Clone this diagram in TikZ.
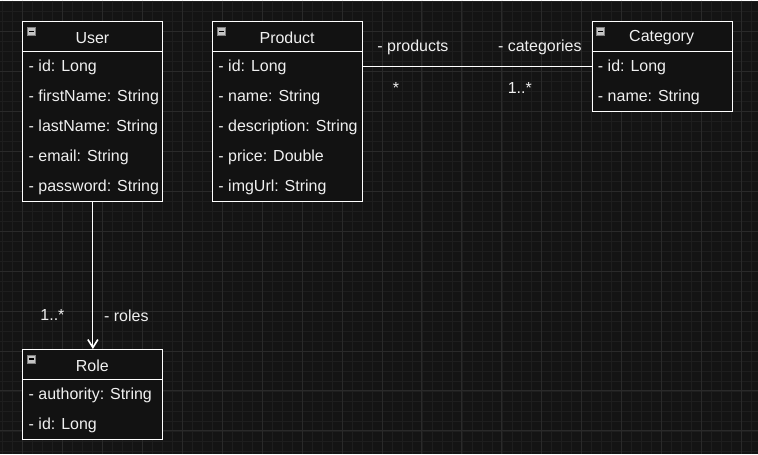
\documentclass[tikz,border=0pt]{standalone}
\usepackage{fontspec}
\setmainfont{Liberation Sans}
\usetikzlibrary{arrows.meta}
\definecolor{canvasbg}{HTML}{141414}
\definecolor{boxbg}{HTML}{121212}
\definecolor{minorline}{HTML}{1E1E1E}
\definecolor{majorline}{HTML}{2A2A2A}
\definecolor{labeltext}{HTML}{F0F0F0}
\definecolor{iconfill}{HTML}{C4C4C4}
\begin{document}
\begin{tikzpicture}[x=0.75pt, y=-0.75pt]
    % Define styles
    \tikzset{
        classbox/.style={draw=white, line width=0.75pt, fill=boxbg, anchor=north west, inner sep=0pt},
        classname/.style={text=labeltext, font=\fontsize{12}{14}\selectfont, inner sep=0pt, yshift=-1pt},
        attribute/.style={anchor=west, text=labeltext, font=\fontsize{12}{14}\selectfont, inner sep=0pt, yshift=-1pt},
        edgelabel/.style={text=labeltext, font=\fontsize{12}{14}\selectfont, inner sep=0pt, yshift=-1pt},
        headerline/.style={draw=white, line width=0.75pt},
        collapseicon/.style={draw=gray, fill=iconfill, minimum size=6pt, inner sep=0pt,
            path picture={\draw[black, line width=0.9pt] ([xshift=1.2pt]path picture bounding box.west) -- ([xshift=-1.2pt]path picture bounding box.east);}},
        assocline/.style={draw=white, line width=0.6pt},
        navarrow/.style={draw=white, line width=0.75pt, -{Straight Barb[length=6pt, width=7.5pt, line width=1.2pt]}}
    }

    % Canvas and grid
    \fill[canvasbg] (0,0) rectangle (758,454);
    \foreach \gx in {2,12,...,752} \draw[minorline, line width=0.5pt] (\gx,0) -- (\gx,454);
    \foreach \gy in {1,11,...,451} \draw[minorline, line width=0.5pt] (0,\gy) -- (758,\gy);
    \foreach \gx in {22,62,...,742} \draw[majorline, line width=0.75pt] (\gx,0) -- (\gx,454);
    \foreach \gy in {31,71,...,431} \draw[majorline, line width=0.75pt] (0,\gy) -- (758,\gy);
    \useasboundingbox (0,0) rectangle (758,454);

    % Class boxes
    \node[classbox, minimum width=105pt, minimum height=135pt] (user) at (22,21) {};
    \node[classbox, minimum width=112.5pt, minimum height=135pt] (product) at (212,21) {};
    \node[classbox, minimum width=105pt, minimum height=67.5pt] (category) at (592,21) {};
    \node[classbox, minimum width=105pt, minimum height=67.5pt] (role) at (22,349) {};

    % Header separators
    \draw[headerline] (22,51) -- (162,51);
    \draw[headerline] (212,51) -- (362,51);
    \draw[headerline] (592,51) -- (732,51);
    \draw[headerline] (22,379) -- (162,379);

    % Collapse icons
    \node[collapseicon] (usericon) at (31,31) {};
    \node[collapseicon] (producticon) at (221,31) {};
    \node[collapseicon] (categoryicon) at (601,31) {};
    \node[collapseicon] (roleicon) at (31,359) {};

    % Class names
    \node[classname] (usertitle) at (92,36) {User};
    \node[classname] (producttitle) at (287,36) {Product};
    \node[classname] (categorytitle) at (662,36) {Category};
    \node[classname] (roletitle) at (92,364) {Role};

    % User attributes
    \node[attribute] (uid) at (28,66) {- id: Long};
    \node[attribute] (ufirst) at (28,96) {- firstName: String};
    \node[attribute] (ulast) at (28,126) {- lastName: String};
    \node[attribute] (umail) at (28,156) {- email: String};
    \node[attribute] (upass) at (28,186) {- password: String};

    % Product attributes
    \node[attribute] (pid) at (218,66) {- id: Long};
    \node[attribute] (pname) at (218,96) {- name: String};
    \node[attribute] (pdesc) at (218,126) {- description: String};
    \node[attribute] (pprice) at (218,156) {- price: Double};
    \node[attribute] (pimg) at (218,186) {- imgUrl: String};

    % Category attributes
    \node[attribute] (cid) at (598,66) {- id: Long};
    \node[attribute] (cname) at (598,96) {- name: String};

    % Role attributes
    \node[attribute] (rauth) at (28,394) {- authority: String};
    \node[attribute] (rid) at (28,424) {- id: Long};

    % Associations
    \draw[assocline] (product.east |- 0,66) -- (category.west |- 0,66);
    \draw[navarrow] (user.south) -- (role.north);

    % Association labels
    \node[edgelabel] (prodrole) at (413,46) {- products};
    \node[edgelabel] (catrole) at (540,46) {- categories};
    \node[edgelabel] (prodmult) at (396,86) {*};
    \node[edgelabel] (catmult) at (520,86) {1..*};
    \node[edgelabel] (rolemult) at (52,314) {1..*};
    \node[edgelabel] (rolerole) at (126,314) {- roles};
\end{tikzpicture}
\end{document}
